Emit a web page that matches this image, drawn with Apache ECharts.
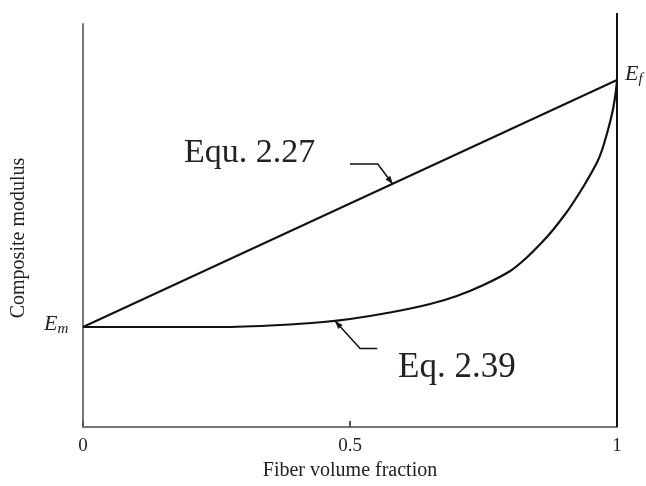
<!DOCTYPE html>
<html><head><meta charset="utf-8">
<script src="https://cdn.jsdelivr.net/npm/echarts@6/dist/echarts.min.js"></script>
<style>html,body{margin:0;padding:0;background:#fff}#c{width:646px;height:486px}</style>
</head><body><div id="c"></div>
<script>
// Data
const xTicks = [0, 0.5, 1];
const Em = 1.0, Ef = 3.47;
const ruleOfMixtures = [[0, Em], [1, Ef]]; // Equ. 2.27
const inverseRuleVf = [0, 0.15, 0.257, 0.369, 0.45, 0.5, 0.58, 0.65, 0.70, 0.75, 0.80, 0.83, 0.86, 0.88, 0.906, 0.92, 0.94, 0.963, 0.972, 0.981, 0.987, 0.993, 0.998, 1.0];
const inverseRuleE  = [1.0, 1.0, 1.0, 1.02, 1.05, 1.08, 1.15, 1.23, 1.31, 1.42, 1.56, 1.69, 1.85, 1.97, 2.15, 2.26, 2.43, 2.65, 2.77, 2.93, 3.05, 3.19, 3.36, 3.47]; // Eq. 2.39
const rightEdge = [[1, 0], [1, 4.14]];
const leader227 = [[0.5, 2.63], [0.552, 2.63], [0.58, 2.43]];
const leader239 = [[0.551, 0.784], [0.519, 0.784], [0.472, 1.06]];

const chart = echarts.init(document.getElementById('c'));
const serif = '"Liberation Serif","DejaVu Serif",serif';

function leaderRender(params, api) {
  const pts = (params.dataIndex === 0 ? leader227 : leader239).map(p => api.coord(p));
  const a = pts[pts.length - 1], b = pts[pts.length - 2];
  const ang = Math.atan2(a[1] - b[1], a[0] - b[0]);
  const L = 8, W = 3;
  const bx = a[0] - L * Math.cos(ang), by = a[1] - L * Math.sin(ang);
  const px = -Math.sin(ang) * W, py = Math.cos(ang) * W;
  return {type: 'group', children: [
    {type: 'polyline', shape: {points: pts}, style: {stroke: '#111', lineWidth: 1.5, fill: null}},
    {type: 'polygon', shape: {points: [a, [bx + px, by + py], [bx - px, by - py]]}, style: {fill: '#111'}}
  ]};
}

chart.setOption({
  animation: false,
  grid: {left: 83, right: 29, top: 24, bottom: 59, outerBoundsMode: 'none', containLabel: false},
  xAxis: {
    type: 'value', min: 0, max: 1, interval: 0.5,
    axisLine: {lineStyle: {color: '#777', width: 2}},
    axisTick: {inside: true, length: 6, lineStyle: {color: '#555', width: 2}},
    axisLabel: {color: '#222', fontFamily: serif, fontSize: 19, margin: 10,
      formatter: v => xTicks.indexOf(v) >= 0 ? String(v) : ''},
    splitLine: {show: false},
    name: 'Fiber volume fraction', nameLocation: 'middle', nameGap: 30,
    nameTextStyle: {color: '#222', fontFamily: serif, fontSize: 20}
  },
  yAxis: {
    type: 'value', min: 0, max: 4.03,
    axisLine: {show: true, lineStyle: {color: '#777', width: 2}},
    axisTick: {show: false}, axisLabel: {show: false}, splitLine: {show: false}
  },
  series: [
    {type: 'line', data: ruleOfMixtures, symbol: 'none', lineStyle: {color: '#111', width: 2}},
    {type: 'line', data: inverseRuleVf.map((v, i) => [v, inverseRuleE[i]]), symbol: 'none',
      smooth: 0.2, lineStyle: {color: '#111', width: 2.2, join: 'round'}},
    {type: 'line', data: rightEdge, symbol: 'none', clip: false, lineStyle: {color: '#111', width: 2}},
    {type: 'custom', coordinateSystem: 'cartesian2d', renderItem: leaderRender, clip: false,
      data: [[0], [1]], silent: true}
  ],
  graphic: [
    {type: 'text', x: 19, y: 238, rotation: Math.PI / 2,
      style: {text: 'Composite modulus', font: '20px ' + serif, fill: '#222', align: 'center', verticalAlign: 'middle'}},
    {type: 'text', left: 184, top: 136, style: {text: 'Equ. 2.27', font: '34px ' + serif, fill: '#222'}},
    {type: 'text', left: 398, top: 350, style: {text: 'Eq. 2.39', font: '35px ' + serif, fill: '#222'}},
    {type: 'text', left: 44, top: 313, style: {text: '{e|E}{s|m}',
      rich: {e: {font: 'italic 22px ' + serif, fill: '#222'}, s: {font: 'italic 15px ' + serif, fill: '#222', padding: [10, 0, 0, 0]}}}},
    {type: 'text', left: 625, top: 63, style: {text: '{e|E}{s|f}',
      rich: {e: {font: 'italic 22px ' + serif, fill: '#222'}, s: {font: 'italic 15px ' + serif, fill: '#222', padding: [10, 0, 0, 0]}}}}
  ]
});
</script></body></html>
